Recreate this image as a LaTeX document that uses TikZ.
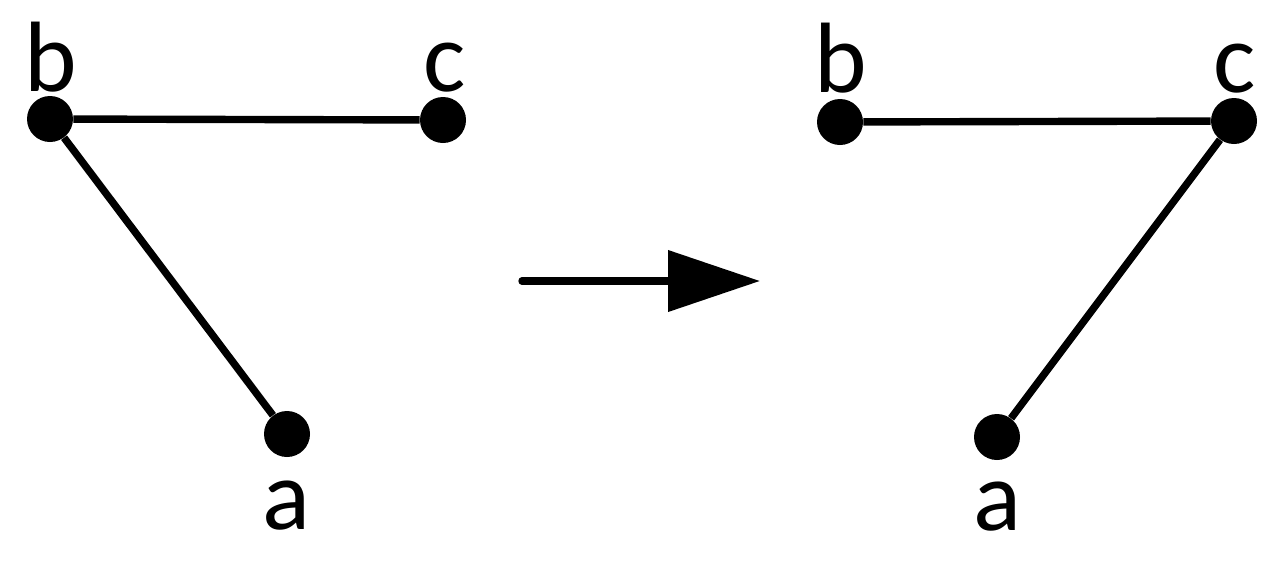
\documentclass[tikz,border=0pt]{standalone}
\usepackage{fontspec}
\setmainfont{Carlito}
\usetikzlibrary{arrows.meta}
\begin{document}
\begin{tikzpicture}[x=0.5pt,y=-0.5pt,
  dot/.style={circle,fill=black,draw=none,minimum size=23pt,inner sep=0pt},
  lbl/.style={anchor=base,inner sep=0pt,font=\fontsize{50pt}{60pt}\selectfont},
  edge/.style={line width=3.7pt,draw=black}]
\useasboundingbox (0,0) rectangle (1274,568);
% left graph
\node[dot] (b1) at (50,119) {};
\node[dot] (c1) at (443,120) {};
\node[dot] (a1) at (287,434) {};
\node[lbl] (lb1) at (51,91) {b};
\node[lbl] (lc1) at (445,91) {c};
\node[lbl] (la1) at (286,529) {a};
\draw[edge] (b1) -- (c1);
\draw[edge] (b1) -- (a1);
% right graph
\node[dot] (b2) at (840,122) {};
\node[dot] (c2) at (1234,121) {};
\node[dot] (a2) at (997,437) {};
\node[lbl] (lb2) at (841,92) {b};
\node[lbl] (lc2) at (1235,92) {c};
\node[lbl] (la2) at (997,530) {a};
\draw[edge] (b2) -- (c2);
\draw[edge] (c2) -- (a2);
% arrow
\coordinate (s) at (522,281);
\coordinate (e) at (760,281);
\draw[edge,line cap=round,-{Triangle[length=46pt,width=30pt]}] (s) -- (e);
\end{tikzpicture}
\end{document}
